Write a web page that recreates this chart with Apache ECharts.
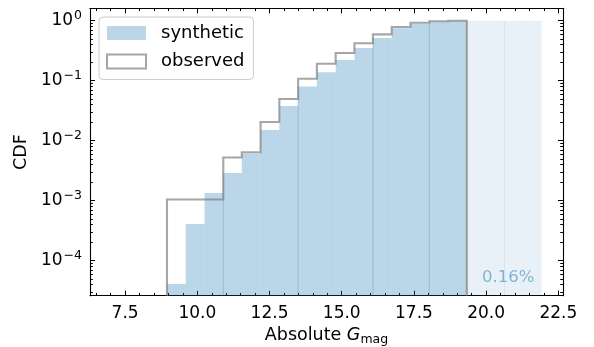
<!DOCTYPE html>
<html>
<head>
<meta charset="utf-8">
<script src="https://cdn.jsdelivr.net/npm/echarts@6/dist/echarts.min.js"></script>
<style>
html, body { margin: 0; padding: 0; background: #ffffff; }
#chart { width: 594px; height: 347px; }
</style>
</head>
<body>
<div id="chart"></div>
<script>
// Histogram bin edges in absolute G magnitude
const binEdges = [8.95, 9.60, 10.25, 10.90, 11.54, 12.19, 12.84, 13.49, 14.14, 14.79,
                  15.44, 16.08, 16.73, 17.38, 18.03, 18.68, 19.33, 19.98, 20.63, 21.27, 21.92];

// Cumulative fractions per bin (first 16 bins)
const syntheticCdf = [4.1e-5, 4.1e-4, 1.34e-3, 2.9e-3, 6.0e-3, 0.0151, 0.038, 0.080,
                      0.138, 0.221, 0.351, 0.515, 0.748, 0.89, 0.95, 0.9984];
const observedCdf  = [1.05e-3, 1.05e-3, 1.05e-3, 5.25e-3, 6.4e-3, 0.0205, 0.0495, 0.108,
                      0.192, 0.29, 0.42, 0.593, 0.785, 0.926, 0.98, 1.0];
// Synthetic stars fainter than the observed limit (last 4 bins)
const syntheticTail = [0.9992, 0.9996, 0.9999, 1.0];
const tailFraction = '0.16%';

// Edges where the synthetic bar blocks join
const seamEdges = [10.90, 13.49, 16.08, 18.03];
const tailSeamEdges = [20.63];

const xMajorTicks = [7.5, 10.0, 12.5, 15.0, 17.5, 20.0, 22.5];
const yMajorTicks = [1e-4, 1e-3, 1e-2, 1e-1, 1];

const xLo = 6.285, xHi = 22.66, yLo = 2.61e-5, yHi = 1.61;

// minor ticks: every 0.5 mag on x, 2..9 x 10^k on y
const xMinorTicks = [];
for (let v = 6.5; v <= 22.5001; v += 0.5) xMinorTicks.push(+v.toFixed(1));
const yMinorTicks = [];
for (let k = -5; k <= 0; k++) {
  for (let m = 2; m <= 9; m++) {
    const v = m * Math.pow(10, k);
    if (v > yLo && v < yHi) yMinorTicks.push(v);
  }
}

const FONT = 'DejaVu Sans';
const BLACK = '#000000';
const SYN_COLOR = 'rgba(31,119,180,0.3)';
const TAIL_COLOR = 'rgba(31,119,180,0.1)';
const SEAM_COLOR = 'rgba(31,119,180,0.28)';
const TAIL_SEAM_COLOR = 'rgba(31,119,180,0.1)';
const OBS_COLOR = 'rgba(128,128,128,0.7)';

function xAxisDef(position, ticks, len, withLine, withLabels) {
  return {
    type: 'value', min: xLo, max: xHi, position: position,
    axisLine: { show: withLine, onZero: false, lineStyle: { color: BLACK, width: 1.1 } },
    axisTick: { show: true, inside: true, length: len, customValues: ticks,
                lineStyle: { color: BLACK, width: 1 } },
    axisLabel: withLabels ? {
      show: true, customValues: ticks, margin: 9, color: BLACK, fontSize: 17, fontFamily: FONT,
      formatter: v => v.toFixed(1)
    } : { show: false },
    splitLine: { show: false }
  };
}

function yAxisDef(position, ticks, len, withLine, withLabels) {
  return {
    type: 'log', min: yLo, max: yHi, position: position, logBase: 10,
    axisLine: { show: withLine, onZero: false, lineStyle: { color: BLACK, width: 1.1 } },
    axisTick: { show: true, inside: true, length: len, customValues: ticks,
                lineStyle: { color: BLACK, width: 1 } },
    axisLabel: withLabels ? {
      show: true, customValues: ticks, margin: 8, color: BLACK, fontFamily: FONT,
      formatter: v => {
        const e = Math.round(Math.log10(v));
        return '{b|10}{s|' + (e < 0 ? '\u2212' + (-e) : String(e)) + '}';
      },
      rich: {
        b: { fontSize: 17, fontFamily: FONT, color: BLACK },
        s: { fontSize: 12.5, fontFamily: FONT, color: BLACK, padding: [0, 0, 9, 1] }
      }
    } : { show: false },
    splitLine: { show: false }
  };
}

const xAxes = [
  xAxisDef('bottom', xMajorTicks, 5, true, true),
  xAxisDef('bottom', xMinorTicks, 2.8, false, false),
  xAxisDef('top', xMajorTicks, 5, true, false),
  xAxisDef('top', xMinorTicks, 2.8, false, false)
];
xAxes[0].name = 'Absolute {i|G}{sub|mag}';
xAxes[0].nameLocation = 'middle';
xAxes[0].nameGap = 22;
xAxes[0].nameTextStyle = {
  fontSize: 17.5, fontFamily: FONT, color: BLACK,
  rich: {
    i: { fontSize: 17.5, fontFamily: FONT, fontStyle: 'italic', color: BLACK },
    sub: { fontSize: 12.5, fontFamily: FONT, color: BLACK, padding: [9, 0, 0, 0] }
  }
};

const yAxes = [
  yAxisDef('left', yMajorTicks, 5, true, true),
  yAxisDef('left', yMinorTicks, 2.8, false, false),
  yAxisDef('right', yMajorTicks, 5, true, false),
  yAxisDef('right', yMinorTicks, 2.8, false, false)
];
yAxes[0].name = 'CDF';
yAxes[0].nameLocation = 'middle';
yAxes[0].nameGap = 49;
yAxes[0].nameTextStyle = { fontSize: 17.5, fontFamily: FONT, color: BLACK };

// bar rectangles from [x0, x1, y]
function barData(values, offset) {
  return values.map((v, i) => [binEdges[offset + i], binEdges[offset + i + 1], v]);
}

function renderBars(color) {
  return function (params, api) {
    const p0 = api.coord([api.value(0), api.value(2)]);
    const p1 = api.coord([api.value(1), yLo]);
    return {
      type: 'rect',
      shape: { x: p0[0], y: p0[1], width: p1[0] - p0[0], height: p1[1] - p0[1] },
      style: { fill: color }
    };
  };
}

// height of the synthetic bars on either side of an edge
function heightAt(edge) {
  const all = syntheticCdf.concat(syntheticTail);
  let h = yLo;
  for (let i = 0; i < all.length; i++) {
    if (Math.abs(binEdges[i] - edge) < 1e-6 || Math.abs(binEdges[i + 1] - edge) < 1e-6) h = Math.max(h, all[i]);
  }
  return h;
}

function renderSeams(color) {
  return function (params, api) {
    const x = api.value(0);
    const top = api.coord([x, heightAt(x)]);
    const bot = api.coord([x, yLo]);
    return {
      type: 'line',
      shape: { x1: top[0], y1: top[1], x2: bot[0], y2: bot[1] },
      style: { stroke: color, lineWidth: 1 }
    };
  };
}

// observed CDF as one open step outline
function renderObserved(params, api) {
  const pts = [api.coord([binEdges[0], yLo])];
  observedCdf.forEach((v, i) => {
    pts.push(api.coord([binEdges[i], v]));
    pts.push(api.coord([binEdges[i + 1], v]));
  });
  pts.push(api.coord([binEdges[observedCdf.length], yLo]));
  return {
    type: 'polyline',
    shape: { points: pts },
    style: { stroke: OBS_COLOR, lineWidth: 2.1, fill: null, lineJoin: 'miter' }
  };
}

function renderTailLabel(params, api) {
  const p = api.coord([api.value(0), api.value(1)]);
  return {
    type: 'text',
    x: p[0], y: p[1],
    style: {
      text: tailFraction, fill: 'rgba(31,119,180,0.5)', fontSize: 16.5, fontFamily: FONT,
      align: 'right', verticalAlign: 'middle'
    }
  };
}

const chart = echarts.init(document.getElementById('chart'), null, { renderer: 'canvas' });
chart.setOption({
  animation: false,
  backgroundColor: '#ffffff',
  grid: { left: 90, right: 31, top: 8.3, bottom: 51.3, containLabel: false, outerBoundsMode: 'none' },
  xAxis: xAxes,
  yAxis: yAxes,
  legend: {
    orient: 'vertical', left: 99, top: 17,
    padding: [6, 9, 8, 7], itemGap: 8.5,
    itemWidth: 39, itemHeight: 14,
    backgroundColor: 'rgba(255,255,255,0.8)', borderColor: '#cccccc', borderWidth: 1, borderRadius: 4,
    textStyle: { fontSize: 18, fontFamily: FONT, color: BLACK, lineHeight: 20, padding: [0, 0, 0, 10] },
    data: [
      { name: 'synthetic', icon: 'rect', itemStyle: { color: SYN_COLOR, borderWidth: 0 } },
      { name: 'observed', icon: 'rect', itemStyle: { color: '#ffffff', borderColor: OBS_COLOR, borderWidth: 2 } }
    ],
    selectedMode: false
  },
  series: [
    { type: 'custom', name: 'synthetic', renderItem: renderBars(SYN_COLOR),
      data: barData(syntheticCdf, 0), encode: { x: [0, 1], y: 2 }, itemStyle: { color: SYN_COLOR }, z: 2 },
    { type: 'custom', name: 'synthetic tail', renderItem: renderBars(TAIL_COLOR),
      data: barData(syntheticTail, syntheticCdf.length), encode: { x: [0, 1], y: 2 }, z: 2 },
    { type: 'custom', name: 'seams', renderItem: renderSeams(SEAM_COLOR),
      data: seamEdges.map(e => [e]), encode: { x: 0 }, z: 3 },
    { type: 'custom', name: 'tail seams', renderItem: renderSeams(TAIL_SEAM_COLOR),
      data: tailSeamEdges.map(e => [e]), encode: { x: 0 }, z: 3 },
    { type: 'custom', name: 'observed', renderItem: renderObserved,
      data: [[binEdges[0], observedCdf[0]]], encode: { x: 0, y: 1 },
      itemStyle: { color: '#ffffff', borderColor: OBS_COLOR }, z: 4 },
    { type: 'custom', name: 'tail label', renderItem: renderTailLabel,
      data: [[21.67, 5.2e-5]], encode: { x: 0, y: 1 }, z: 5 }
  ]
});
</script>
</body>
</html>
